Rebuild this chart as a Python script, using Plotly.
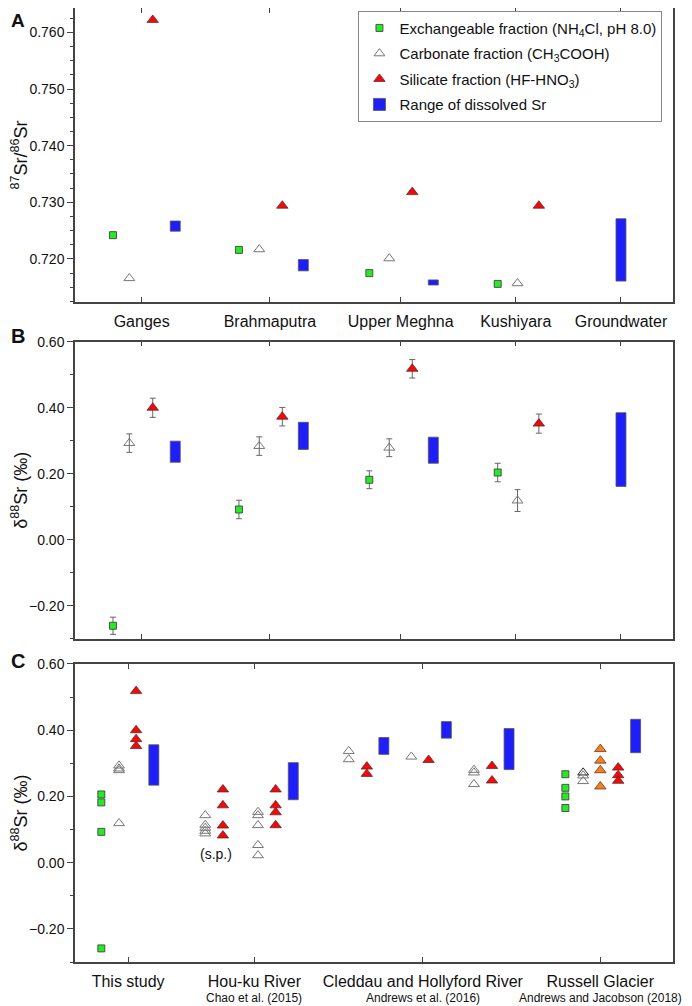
import plotly.graph_objects as go

# ---- panels A and B: Bangladesh rivers ----
rivers = ["Ganges", "Brahmaputra", "Upper Meghna", "Kushiyara", "Groundwater"]
river_tick = [0.669, 1.956, 3.268, 4.422, 5.478]

x_exch = [0.381, 1.645, 2.953, 4.241]
x_carb = [0.545, 1.849, 3.153, 4.440]
x_sil = [0.780, 2.080, 3.384, 4.654]
x_diss = [1.006, 2.291, 3.595, 5.478]   # Ganges, Brahmaputra, Upper Meghna, Groundwater

# A: 87Sr/86Sr
sr_exch = [0.7242, 0.7216, 0.7175, 0.7156]
sr_carb = [0.7166, 0.7217, 0.7201, 0.7157]
sr_sil = [0.7622, 0.7294, 0.7318, 0.7294]
sr_diss_lo = [0.7249, 0.7179, 0.7154, 0.7161]
sr_diss_hi = [0.7267, 0.7199, 0.7163, 0.7271]

# B: d88Sr
d88_exch = [-0.260, 0.092, 0.182, 0.204]
d88_exch_err = [0.026, 0.028, 0.027, 0.028]
d88_carb = [0.293, 0.284, 0.279, 0.119]
d88_carb_err = [0.028, 0.028, 0.027, 0.033]
d88_sil = [0.400, 0.373, 0.518, 0.352]
d88_sil_err = [0.029, 0.028, 0.028, 0.029]
d88_diss_lo = [0.235, 0.274, 0.232, 0.162]
d88_diss_hi = [0.299, 0.356, 0.311, 0.385]

# ---- panel C: comparison with other studies ----
studies = ["This study", "Hou-ku River", "Cleddau and Hollyford River", "Russell Glacier"]
study_ref = ["", "Chao et al. (2015)", "Andrews et al. (2016)", "Andrews and Jacobson (2018)"]
study_tick = [0.533, 1.80, 3.49, 5.27]

c_exch_x = [0.264, 0.264, 0.264, 0.264, 4.92, 4.92, 4.92, 4.92]
c_exch_y = [0.206, 0.182, 0.093, -0.259, 0.267, 0.226, 0.200, 0.165]

c_carb_x = [0.442, 0.442, 0.442, 0.442,
            1.307, 1.307, 1.307, 1.307, 1.307,
            1.836, 1.836, 1.836, 1.836, 1.836,
            2.747, 2.747, 3.374, 4.003, 4.003, 4.003,
            5.098, 5.098]
c_carb_y = [0.293, 0.284, 0.279, 0.119,
            0.143, 0.114, 0.105, 0.096, 0.088,
            0.153, 0.143, 0.113, 0.053, 0.022,
            0.337, 0.312, 0.320, 0.280, 0.272, 0.237,
            0.263, 0.246]
c_carb_dark_x = [5.098]
c_carb_dark_y = [0.272]

c_sil_x = [0.613, 0.613, 0.613, 0.613,
           1.484, 1.484, 1.484, 1.484,
           2.013, 2.013, 2.013, 2.013,
           2.928, 2.928, 3.548, 4.184, 4.184,
           5.450, 5.450, 5.450]
c_sil_y = [0.518, 0.400, 0.373, 0.352,
           0.221, 0.173, 0.112, 0.082,
           0.221, 0.173, 0.152, 0.113,
           0.290, 0.268, 0.310, 0.292, 0.248,
           0.287, 0.264, 0.247]

c_orange_x = [5.271, 5.271, 5.271, 5.271]
c_orange_y = [0.343, 0.308, 0.279, 0.230]

c_diss_x = [0.791, 2.19, 3.099, 3.726, 4.355, 5.625]
c_diss_lo = [0.234, 0.190, 0.327, 0.376, 0.281, 0.332]
c_diss_hi = [0.356, 0.302, 0.378, 0.426, 0.405, 0.433]

FONT = "Liberation Sans, Arial, sans-serif"
GREEN = "rgb(40,232,40)"
RED = "rgb(240,10,10)"
BLUE = "rgb(30,30,250)"
ORANGE = "rgb(245,130,25)"
AXC = "#444444"
BAR_W = 0.10
ERR = dict(type="data", color="#666", thickness=1, width=3)


def exch(x, y, err=None, xa="x", ya="y", leg=False):
    return go.Scatter(x=x, y=y, xaxis=xa, yaxis=ya, mode="markers", showlegend=leg, legendgroup="g1",
                      name="Exchangeable fraction (NH<sub>4</sub>Cl, pH 8.0)", legendrank=1,
                      marker=dict(symbol="square", size=7, color=GREEN, line=dict(color="#333", width=0.8)),
                      error_y=None if err is None else dict(ERR, array=err))


def carb(x, y, err=None, xa="x", ya="y", leg=False, edge="#777"):
    return go.Scatter(x=x, y=y, xaxis=xa, yaxis=ya, mode="markers", showlegend=leg, legendgroup="g2",
                      name="Carbonate fraction (CH<sub>3</sub>COOH)", legendrank=2,
                      marker=dict(symbol="triangle-up-open", size=9.5, color=edge, line=dict(width=1)),
                      error_y=None if err is None else dict(ERR, array=err))


def sil(x, y, err=None, xa="x", ya="y", leg=False, color=RED):
    return go.Scatter(x=x, y=y, xaxis=xa, yaxis=ya, mode="markers", showlegend=leg, legendgroup="g3",
                      name="Silicate fraction (HF-HNO<sub>3</sub>)", legendrank=3,
                      marker=dict(symbol="triangle-up", size=10, color=color, line=dict(color="#552222", width=0.7)),
                      error_y=None if err is None else dict(ERR, array=err))


def diss(x, lo, hi, xa="x", ya="y", leg=False):
    return go.Bar(x=x, base=lo, y=[h - l for h, l in zip(hi, lo)], width=BAR_W, xaxis=xa, yaxis=ya,
                  showlegend=leg, legendgroup="g4", name="Range of dissolved Sr", legendrank=4,
                  marker=dict(color=BLUE, line=dict(color="#555", width=0.8)))


fig = go.Figure()
# A
fig.add_trace(diss(x_diss, sr_diss_lo, sr_diss_hi, leg=True))
fig.add_trace(exch(x_exch, sr_exch, leg=True))
fig.add_trace(carb(x_carb, sr_carb, leg=True))
fig.add_trace(sil(x_sil, sr_sil, leg=True))
# B
fig.add_trace(diss(x_diss, d88_diss_lo, d88_diss_hi, "x2", "y2"))
fig.add_trace(exch(x_exch, d88_exch, d88_exch_err, "x2", "y2"))
fig.add_trace(carb(x_carb, d88_carb, d88_carb_err, "x2", "y2"))
fig.add_trace(sil(x_sil, d88_sil, d88_sil_err, "x2", "y2"))
# C
fig.add_trace(diss(c_diss_x, c_diss_lo, c_diss_hi, "x3", "y3"))
fig.add_trace(exch(c_exch_x, c_exch_y, None, "x3", "y3"))
fig.add_trace(carb(c_carb_x, c_carb_y, None, "x3", "y3"))
fig.add_trace(carb(c_carb_dark_x, c_carb_dark_y, None, "x3", "y3", edge="#222"))
fig.add_trace(sil(c_orange_x, c_orange_y, None, "x3", "y3", color=ORANGE))
fig.add_trace(sil(c_sil_x, c_sil_y, None, "x3", "y3"))

xcommon = dict(range=[0, 6], showgrid=False, zeroline=False, showline=True, linecolor=AXC, linewidth=1.5,
               mirror="ticks", ticks="inside", ticklen=5, tickcolor=AXC, tickwidth=1.2, automargin=False,
               tickfont=dict(size=16, color="#111"), ticklabelstandoff=4)
ycommon = dict(showgrid=False, zeroline=False, showline=True, linecolor=AXC, linewidth=1.5, mirror=True,
               ticks="outside", ticklen=6, tickcolor=AXC, tickwidth=1.2, automargin=False,
               tickfont=dict(size=14, color="#111"), title_font=dict(size=18, color="#111"))

# page body adds an 8px offset; margins are set so the plot frame lands where the original is
fig.update_layout(
    width=692, height=1006, plot_bgcolor="white", paper_bgcolor="white",
    margin=dict(l=67, r=27, t=0, b=52), barmode="overlay",
    font=dict(family=FONT, color="#111"),
    xaxis=dict(xcommon, domain=[0, 1], anchor="y", tickvals=river_tick, ticktext=rivers),
    yaxis=dict(ycommon, domain=[0.6918, 1.0], anchor="x", range=[0.7124, 0.7643], dtick=0.01,
               tickformat=".3f", minor=dict(dtick=0.0025, ticks="outside", ticklen=3, tickcolor=AXC),
               title=dict(text="<sup>87</sup>Sr/<sup>86</sup>Sr", standoff=10)),
    xaxis2=dict(xcommon, domain=[0, 1], anchor="y2", tickvals=river_tick, showticklabels=False),
    yaxis2=dict(ycommon, domain=[0.3386, 0.6502], anchor="x2", range=[-0.30, 0.60], dtick=0.2,
                tickformat=".2f", minor=dict(dtick=0.1, ticks="outside", ticklen=3, tickcolor=AXC),
                title=dict(text="δ<sup>88</sup>Sr (‰)", standoff=10)),
    xaxis3=dict(xcommon, domain=[0, 1], anchor="y3", tickvals=study_tick, ticktext=studies),
    yaxis3=dict(ycommon, domain=[0, 0.3124], anchor="x3", range=[-0.30, 0.60], dtick=0.2,
                tickformat=".2f", minor=dict(dtick=0.1, ticks="outside", ticklen=3, tickcolor=AXC),
                title=dict(text="δ<sup>88</sup>Sr (‰)", standoff=10)),
    legend=dict(x=0.474, y=0.9972, xanchor="left", yanchor="top", bgcolor="white",
                bordercolor="#888", borderwidth=1, font=dict(size=15, color="#111"),
                traceorder="grouped", tracegroupgap=3, itemsizing="trace"),
)

ann = [
    dict(text="<b>A</b>", x=-0.111, y=1.0, xref="paper", yref="paper", showarrow=False,
         font=dict(size=19), yanchor="top"),
    dict(text="<b>B</b>", x=-0.11, y=0.6567, xref="paper", yref="paper", showarrow=False,
         font=dict(size=20), yanchor="middle"),
    dict(text="<b>C</b>", x=-0.11, y=0.315, xref="paper", yref="paper", showarrow=False,
         font=dict(size=20), yanchor="middle"),
    dict(text="(s.p.)", x=1.414, y=0.027, xref="x3", yref="y3", showarrow=False, font=dict(size=14)),
]
for xt, ref in zip(study_tick, study_ref):
    if ref:
        ann.append(dict(text=ref, x=xt, y=-0.0377, xref="x3", yref="paper", yanchor="middle",
                        showarrow=False, font=dict(size=12)))
fig.update_layout(annotations=ann)

fig.write_html("out.html")
